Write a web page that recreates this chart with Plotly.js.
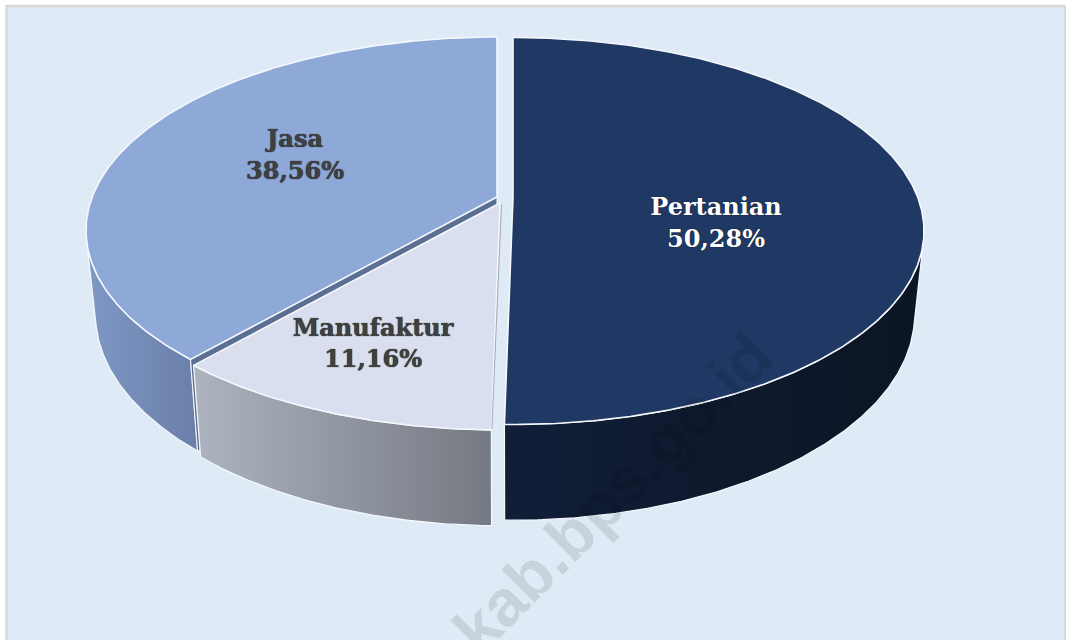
<!DOCTYPE html>
<html><head><meta charset="utf-8">
<script src="https://cdn.plot.ly/plotly-3.0.1.min.js"></script>
<style>html,body{margin:0;padding:0;background:#fff}#c{width:1066px;height:640px}</style>
</head><body><div id="c"></div>
<script>
const categories = ['Pertanian','Manufaktur','Jasa'];
const shares = [50.28, 11.16, 38.56];
const shareLabels = ['50,28%','11,16%','38,56%'];
const topColors = ['#1F3864','#D9DFEF','#8EA8D8'];
const wallLeft = ['#111E38','#AEB4BF','#7F98C6'];
const wallRight = ['#0C1524','#747982','#6A7EA8'];
const labelColors = ['#FFFFFF','#404040','#404040'];
const vertexX = [513, 500, 497];
const vertexY = [197.5, 203, 197];
const labelX = [716, 373, 295];
const labelY = [225, 345.5, 157];
const watermark = 'kab.bps.go.id';

const K = 0.173, C = 187.7, D = 404.8, SX = 0.977, SY = 1.0625, DEPTH = 81.6;
function topPt(i, deg){
  const t = deg*Math.PI/180, u = Math.sin(t), v = Math.cos(t), w = 1 + K*v;
  return [vertexX[i] + D*u/w, vertexY[i] - C*v/w];
}
function botPt(i, deg){
  const p = topPt(i, deg);
  return [vertexX[i] + SX*(p[0]-vertexX[i]), vertexY[i] + DEPTH + SY*(p[1]-vertexY[i])];
}
function sweep(a, b){ const r=[]; const n=Math.max(2,Math.ceil((b-a)*2)); for(let k=0;k<=n;k++) r.push(a+(b-a)*k/n); return r; }
function facesViewer(i, d){
  const p=topPt(i,d-0.25), q=topPt(i,d+0.25), t=topPt(i,d), b=botPt(i,d);
  return (q[0]-p[0])*(b[1]-t[1]) - (q[1]-p[1])*(b[0]-t[0]) < 0;
}

const total = shares.reduce((a,b)=>a+b,0);
let acc = 0;
const spans = shares.map(s=>{ const a=acc/total*360; acc+=s; return [a, acc/total*360]; });

const traces = [];
const EDGE = '#F4F8FC';
function poly(pts, extra){
  traces.push(Object.assign({type:'scatter',mode:'lines',x:pts.map(p=>p[0]),y:pts.map(p=>p[1]),
    fill:'toself',hoverinfo:'skip',showlegend:false},extra));
}
function wall(i){
  const ar = sweep(spans[i][0],spans[i][1]).filter(d=>facesViewer(i,d));
  const pts = ar.map(d=>topPt(i,d)).concat(ar.slice().reverse().map(d=>botPt(i,d)));
  pts.push(pts[0]);
  poly(pts,{fillcolor:wallRight[i],
    fillgradient:{type:'horizontal',colorscale:[[0,wallLeft[i]],[1,wallRight[i]]]},
    line:{color:EDGE,width:1.3}});
}
function face(i, deg, color){
  const p=topPt(i,deg), q=botPt(i,deg), c=[vertexX[i],vertexY[i]], e=[vertexX[i],vertexY[i]+DEPTH];
  poly([c,p,q,e,c],{fillcolor:color,line:{color:EDGE,width:1}});
}
function surface(i){
  const pts = [[vertexX[i],vertexY[i]]].concat(sweep(spans[i][0],spans[i][1]).map(d=>topPt(i,d)));
  pts.push(pts[0]);
  poly(pts,{fillcolor:topColors[i],line:{color:EDGE,width:1.6}});
}
// back to front: Jasa, Manufaktur, Pertanian
wall(2); face(2, spans[2][0], '#5A6F92'); surface(2);
wall(1); surface(1);
{ // thin grey inner edge along Manufaktur's cut towards Pertanian
  const a=[vertexX[1]+1.5,vertexY[1]+1], b=topPt(1,spans[1][0]);
  traces.push({type:'scatter',mode:'lines',x:[a[0],b[0]+0.5],y:[a[1],b[1]-1],hoverinfo:'skip',showlegend:false,
    line:{color:'#A4A8B0',width:1}});
}
wall(0); surface(0);

traces.push({type:'scatter',mode:'text',x:labelX,y:labelY,hoverinfo:'skip',showlegend:false,
  text:categories.map((c,i)=>'<b>'+c+'</b><br><b>'+shareLabels[i]+'</b>'),
  textposition:'middle center',
  textfont:{family:'"DejaVu Serif",serif',size:24,color:labelColors,
    shadow:'0 0 1px currentColor'}});

const layout = {
  width:1066,height:640,margin:{l:0,r:0,t:0,b:0,pad:0},
  paper_bgcolor:'#FFFFFF',plot_bgcolor:'rgba(0,0,0,0)',showlegend:false,
  xaxis:{range:[0,1066],visible:false,fixedrange:true},
  yaxis:{range:[640,0],visible:false,fixedrange:true},
  shapes:[{type:'rect',layer:'below',xref:'x',yref:'y',x0:6.5,y0:6,x1:1065,y1:660,
    fillcolor:'#DEEAF6',line:{color:'#D9D9D9',width:2.5}}],
  annotations:[{xref:'x',yref:'y',x:612,y:493,text:'<b>'+watermark+'</b>',showarrow:false,textangle:-45,
    font:{family:'"Liberation Sans",sans-serif',size:65,color:'rgba(0,0,0,0.1)'}}]
};
Plotly.newPlot('c',traces,layout,{displayModeBar:false,staticPlot:true});
</script></body></html>
